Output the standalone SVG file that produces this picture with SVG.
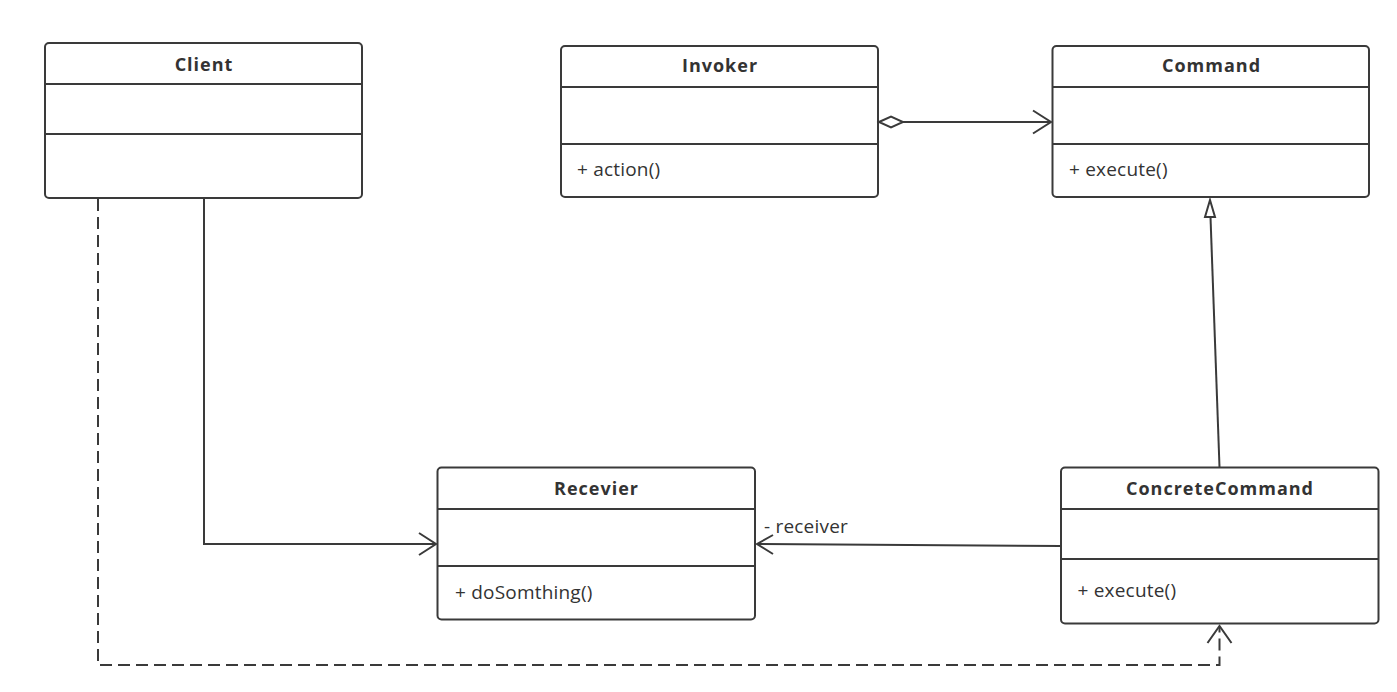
<svg xmlns="http://www.w3.org/2000/svg" width="1397" height="692" viewBox="0 0 1397 692">
<style>
.box{fill:#fff;stroke:#3a3a3a;stroke-width:2}
.sep{stroke:#3a3a3a;stroke-width:2}
.title{font-family:"Open Sans","Noto Sans",sans-serif;font-weight:bold;font-size:18px;letter-spacing:1px;fill:#333;text-anchor:middle}
.member{font-family:"Open Sans","Noto Sans",sans-serif;font-size:19px;letter-spacing:0.2px;fill:#333}
.line{fill:none;stroke:#3a3a3a;stroke-width:2}
.dash{fill:none;stroke:#3a3a3a;stroke-width:2;stroke-dasharray:12 6}
</style>
<rect width="1397" height="692" fill="#fff"/>
<g id="Client">
<rect class="box" x="45" y="43" width="317" height="155" rx="4"/>
<line class="sep" x1="45" y1="84" x2="362" y2="84"/>
<line class="sep" x1="45" y1="134" x2="362" y2="134"/>
<text class="title" x="204" y="71">Client</text>
</g>
<g id="Invoker">
<rect class="box" x="561" y="46" width="317" height="151" rx="4"/>
<line class="sep" x1="561" y1="87" x2="878" y2="87"/>
<line class="sep" x1="561" y1="144" x2="878" y2="144"/>
<text class="title" x="720" y="72">Invoker</text>
<text class="member" x="577" y="176">+ action()</text>
</g>
<g id="Command">
<rect class="box" x="1052.5" y="46" width="316.5" height="151" rx="4"/>
<line class="sep" x1="1052.5" y1="87" x2="1369" y2="87"/>
<line class="sep" x1="1052.5" y1="144" x2="1369" y2="144"/>
<text class="title" x="1211.5" y="72">Command</text>
<text class="member" x="1069" y="176">+ execute()</text>
</g>
<g id="Recevier">
<rect class="box" x="437.5" y="467.5" width="317.5" height="152" rx="4"/>
<line class="sep" x1="437.5" y1="509" x2="755" y2="509"/>
<line class="sep" x1="437.5" y1="566" x2="755" y2="566"/>
<text class="title" x="596.5" y="495">Recevier</text>
<text class="member" x="455" y="599">+ doSomthing()</text>
</g>
<g id="ConcreteCommand">
<rect class="box" x="1061" y="467.5" width="317.5" height="156" rx="4"/>
<line class="sep" x1="1061" y1="509" x2="1378.5" y2="509"/>
<line class="sep" x1="1061" y1="559" x2="1378.5" y2="559"/>
<text class="title" x="1220" y="495">ConcreteCommand</text>
<text class="member" x="1077.5" y="597">+ execute()</text>
</g>
<g id="connectors">
<line class="line" x1="903" y1="122" x2="1051" y2="122"/>
<polygon points="879,122 891,116.5 903,122 891,127.5" fill="#fff" stroke="#3a3a3a" stroke-width="2"/>
<polyline class="line" points="1033,110.5 1051,122 1033,133.5"/>
<polyline class="line" points="204,198 204,544 436,544"/>
<polyline class="line" points="419,533 436,544 419,555"/>
<line class="line" x1="1061" y1="546" x2="757" y2="544"/>
<polyline class="line" points="773,535 757,544 773,554"/>
<text class="member" x="764" y="533">- receiver</text>
<line class="line" x1="1219.5" y1="467" x2="1210.5" y2="217"/>
<polygon points="1210,200 1215,217 1205,217" fill="#fff" stroke="#3a3a3a" stroke-width="2"/>
<polyline class="dash" points="98,199 98,665 1219.5,665 1219.5,627"/>
<polyline class="line" points="1207.5,643 1219.5,626 1231.5,643"/>
</g>
</svg>
